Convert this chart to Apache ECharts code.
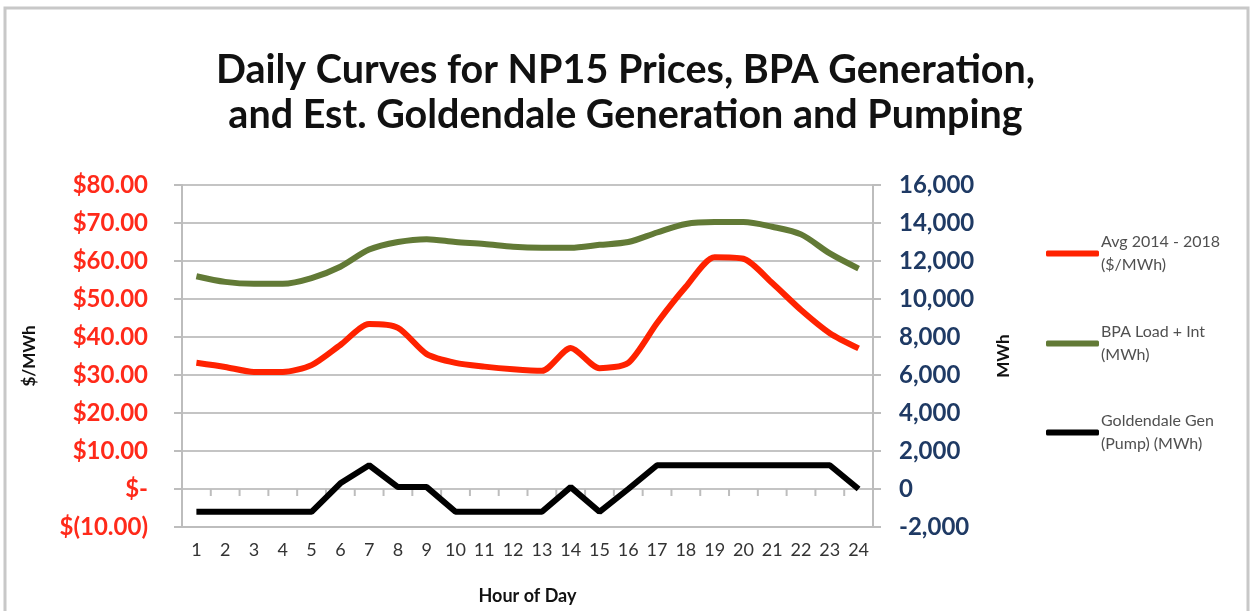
<!DOCTYPE html>
<html>
<head>
<meta charset="utf-8">
<script src="https://cdn.jsdelivr.net/npm/echarts@6/dist/echarts.min.js"></script>
<style>
  html, body { margin: 0; padding: 0; background: #fff; }
  #main { width: 1251px; height: 611px; }
</style>
</head>
<body>
<div id="main"></div>
<script>
// hours of the day
var hours = ['1','2','3','4','5','6','7','8','9','10','11','12','13','14','15','16','17','18','19','20','21','22','23','24'];
// NP15 avg price 2014-2018 ($/MWh)
var priceAvg = [33.2, 32.1, 30.8, 30.8, 32.6, 37.9, 43.4, 42.4, 35.5, 33.2, 32.2, 31.5, 31.1, 37.1, 31.8, 33.2, 43.7, 53.2, 61.0, 60.6, 54.2, 47.1, 41.0, 37.0];
// BPA load + interchange (MWh)
var bpaLoad = [11200, 10900, 10800, 10800, 11100, 11700, 12600, 13000, 13150, 13000, 12900, 12750, 12700, 12700, 12850, 13000, 13500, 13950, 14050, 14050, 13800, 13400, 12400, 11600];
// Goldendale gen (pump) (MWh)
var goldendale = [-1200, -1200, -1200, -1200, -1200, 300, 1250, 100, 100, -1200, -1200, -1200, -1200, 100, -1200, 0, 1250, 1250, 1250, 1250, 1250, 1250, 1250, 0];

var names = ['Avg 2014 - 2018 ($/MWh)', 'BPA Load + Int (MWh)', 'Goldendale Gen (Pump) (MWh)'];
var legendText = {
  'Avg 2014 - 2018 ($/MWh)': 'Avg 2014 - 2018\n($/MWh)',
  'BPA Load + Int (MWh)': 'BPA Load + Int\n(MWh)',
  'Goldendale Gen (Pump) (MWh)': 'Goldendale Gen\n(Pump) (MWh)'
};

var chart = echarts.init(document.getElementById('main'));

function money(v) {
  if (v === 0) return '$-';
  if (v < 0) return '$(' + Math.abs(v).toFixed(2) + ')';
  return '$' + v.toFixed(2);
}
function mwh(v) {
  return v.toLocaleString('en-US');
}

function legendFor(i, top) {
  return {
    data: [names[i]],
    left: 1046,
    top: top,
    padding: 0,
    orient: 'vertical',
    icon: 'roundRect',
    itemWidth: 53,
    itemHeight: 6,
    itemGap: 0,
    selectedMode: false,
    formatter: function (n) { return legendText[n]; },
    textStyle: {
      fontFamily: 'Lato',
      fontSize: 16,
      color: '#505050',
      lineHeight: 23,
      padding: [23, 0, 0, -3]
    }
  };
}

// category-axis ticks where the axis crosses zero (Excel style)
function zeroTicks(params, api) {
  var idx = api.value(0);
  var p = api.coord([idx, 0]);
  var band = api.size([1, 0])[0];
  var lines = [];
  var xs = [p[0] - band / 2];
  if (idx === hours.length - 1) xs.push(p[0] + band / 2);
  xs.forEach(function (x) {
    lines.push({
      type: 'line',
      shape: { x1: x, y1: p[1], x2: x, y2: p[1] + 7 },
      style: { stroke: '#bdbdbd', lineWidth: 2 }
    });
  });
  return { type: 'group', children: lines };
}

var option = {
  backgroundColor: '#fff',
  animation: false,
  title: {
    text: 'Daily Curves for NP15 Prices, BPA Generation,\nand Est. Goldendale Generation and Pumping',
    left: 'center',
    top: 43,
    textStyle: {
      fontFamily: 'Lato',
      fontWeight: 'bold',
      fontSize: 39.5,
      color: '#111',
      lineHeight: 45
    }
  },
  graphic: [{
    type: 'rect',
    shape: { x: 5, y: 8, width: 1243, height: 620 },
    style: { fill: null, stroke: '#c8c8c8', lineWidth: 3 },
    silent: true
  }],
  legend: [legendFor(0, 219), legendFor(1, 309), legendFor(2, 398)],
  grid: { left: 182, right: 378, top: 185, bottom: 84 },
  xAxis: {
    type: 'category',
    data: hours,
    boundaryGap: true,
    position: 'bottom',
    axisLine: { onZero: false, lineStyle: { color: '#bdbdbd', width: 2 } },
    axisTick: { show: false },
    axisLabel: { fontFamily: 'Lato', fontSize: 18, color: '#333', margin: 14, interval: 0 },
    name: 'Hour of Day',
    nameLocation: 'middle',
    nameGap: 60,
    nameTextStyle: { fontFamily: 'Lato', fontWeight: 'bold', fontSize: 18, color: '#111' }
  },
  yAxis: [{
    type: 'value',
    min: -10,
    max: 80,
    interval: 10,
    position: 'left',
    axisLine: { show: true, lineStyle: { color: '#bdbdbd', width: 2 } },
    axisTick: { show: true, length: 8, lineStyle: { color: '#bdbdbd', width: 2 } },
    splitLine: { lineStyle: { color: '#c4c4c4', width: 2 } },
    axisLabel: {
      formatter: money,
      fontFamily: 'Lato', fontWeight: 'bold', fontSize: 24, color: '#ff2a1a', margin: 34
    },
    name: '$/MWh',
    nameLocation: 'middle',
    nameRotate: 90,
    nameGap: 144,
    nameTextStyle: { fontFamily: 'Lato', fontWeight: 'bold', fontSize: 17, color: '#111' }
  }, {
    type: 'value',
    min: -2000,
    max: 16000,
    interval: 2000,
    position: 'right',
    axisLine: { show: true, lineStyle: { color: '#bdbdbd', width: 2 } },
    axisTick: { show: true, length: 8, lineStyle: { color: '#bdbdbd', width: 2 } },
    splitLine: { show: false },
    axisLabel: {
      formatter: mwh,
      fontFamily: 'Lato', fontWeight: 'bold', fontSize: 24, color: '#1f3a64', margin: 26
    },
    name: 'MWh',
    nameLocation: 'middle',
    nameRotate: 90,
    nameGap: 122,
    nameTextStyle: { fontFamily: 'Lato', fontWeight: 'bold', fontSize: 17, color: '#111' }
  }],
  series: [{
    name: 'zeroTicks',
    type: 'custom',
    yAxisIndex: 0,
    data: hours.map(function (h, i) { return [i, 0]; }),
    renderItem: zeroTicks,
    silent: true,
    z: 1
  }, {
    name: names[0],
    type: 'line',
    yAxisIndex: 0,
    data: priceAvg,
    smooth: 0.25,
    symbol: 'none',
    lineStyle: { color: '#ff2200', width: 6 },
    itemStyle: { color: '#ff2200' },
    z: 3
  }, {
    name: names[1],
    type: 'line',
    yAxisIndex: 1,
    data: bpaLoad,
    smooth: 0.3,
    symbol: 'none',
    lineStyle: { color: '#627a36', width: 6 },
    itemStyle: { color: '#627a36' },
    z: 3
  }, {
    name: names[2],
    type: 'line',
    yAxisIndex: 1,
    data: goldendale,
    symbol: 'none',
    lineStyle: { color: '#000', width: 6 },
    itemStyle: { color: '#000' },
    z: 3
  }]
};

chart.setOption(option);
</script>
</body>
</html>
